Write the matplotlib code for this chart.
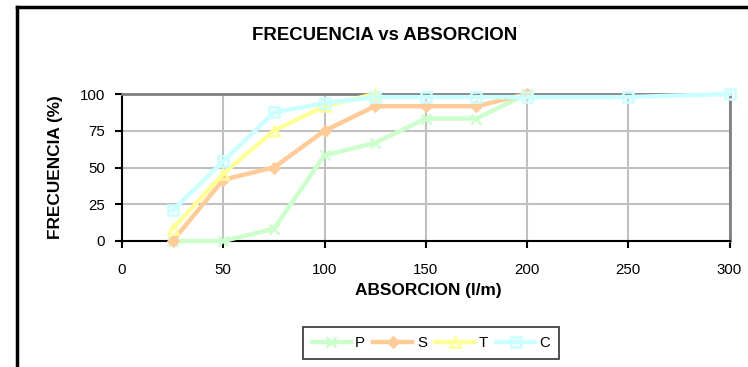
import matplotlib
matplotlib.use("Agg")
import matplotlib.pyplot as plt
from matplotlib.lines import Line2D

plt.rcParams["font.family"] = ["Liberation Sans", "DejaVu Sans"]

# absorption classes (l/m) and cumulative frequency (%) per series
x_p = [25, 50, 75, 100, 125, 150, 175, 200]
x_s = [25, 50, 75, 100, 125, 150, 175, 200]
x_t = [25, 50, 75, 100, 125]
x_c = [25, 50, 75, 100, 125, 150, 175, 200, 250, 300]
freq_p = [0, 0, 8.3, 58.3, 66.7, 83.3, 83.3, 100]
freq_s = [0, 41.7, 50, 75, 91.7, 91.7, 91.7, 100]
freq_t = [8.3, 45.8, 75, 91.7, 100]
freq_c = [20.8, 54.2, 87.5, 93.8, 97.9, 97.9, 97.9, 97.9, 97.9, 100]

x_ticks = [0, 50, 100, 150, 200, 250, 300]
y_ticks = [0, 25, 50, 75, 100]

fig = plt.figure(figsize=(7.48, 3.67), dpi=100)
ax = fig.add_axes([122 / 748, 1 - 241 / 367, (729.5 - 122) / 748, (241 - 94) / 367])

series = [
    ("P", x_p, freq_p, "#CCFFCC", "x", "#CCFFCC", 7),
    ("S", x_s, freq_s, "#FFCC99", "D", "#FFCC99", 5.5),
    ("T", x_t, freq_t, "#FFFF99", "^", "none", 7),
    ("C", x_c, freq_c, "#CCFFFF", "s", "none", 7),
]
for name, xs, ys, col, mk, face, ms in series:
    ax.plot(xs, ys, color=col, lw=3.2, marker=mk, markersize=ms,
            markeredgewidth=1.8, markeredgecolor=col, markerfacecolor=face,
            label=name, clip_on=False, zorder=3)

ax.set_xlim(0, 300)
ax.set_ylim(0, 100)
ax.set_xticks(x_ticks)
ax.set_yticks(y_ticks)
ax.grid(True, color="#C0C0C0", lw=1.5)
ax.set_axisbelow(True)
for side in ("left", "bottom"):
    ax.spines[side].set_color("black")
    ax.spines[side].set_linewidth(1.5)
for side in ("top", "right"):
    ax.spines[side].set_color("#808080")
    ax.spines[side].set_linewidth(2)
ax.tick_params(axis="x", length=5, width=1.5, pad=11, labelsize=10.8)
ax.tick_params(axis="y", length=5, width=1.5, pad=7, labelsize=10.8)

fig.text(385 / 748, 1 - 35 / 367, "FRECUENCIA vs ABSORCION", ha="center",
         va="center", fontsize=13.4, fontweight="bold")
fig.text(428 / 748, 1 - 290 / 367, "ABSORCION (l/m)", ha="center", va="center",
         fontsize=12.4, fontweight="bold")
fig.text(56 / 748, 1 - 167 / 367, "FRECUENCIA (%)", ha="center", va="center",
         rotation=90, fontsize=12.4, fontweight="bold")

leg = fig.legend(loc="center", bbox_to_anchor=(431 / 748, 1 - 343 / 367), ncol=4,
                 fontsize=10.8, frameon=True, fancybox=False, handlelength=2.6,
                 handletextpad=0.3, columnspacing=0.55, borderpad=0.6,
                 borderaxespad=0)
leg.get_frame().set_edgecolor("black")
leg.get_frame().set_linewidth(1.2)

# chart area border
fig.add_artist(Line2D([17 / 748, 17 / 748], [-0.05, 1 - 7 / 367], color="black",
                      lw=2.5, transform=fig.transFigure))
fig.add_artist(Line2D([17 / 748, 1.05], [1 - 7 / 367, 1 - 7 / 367], color="black",
                      lw=2.5, transform=fig.transFigure))

fig.savefig("out.png", dpi=100)
